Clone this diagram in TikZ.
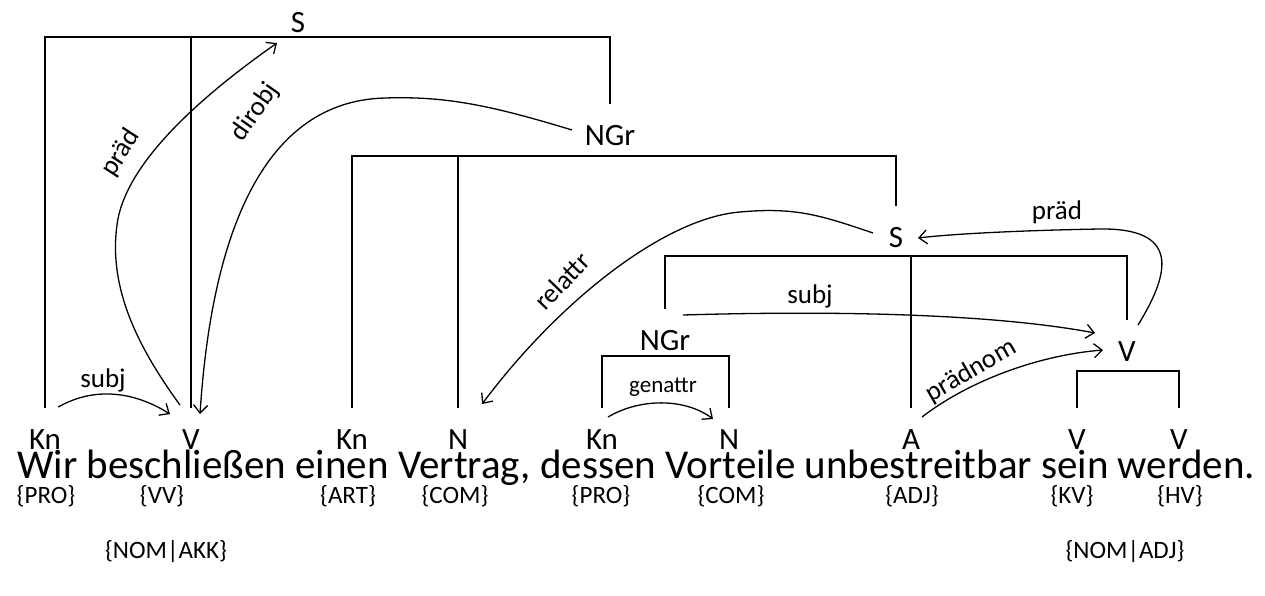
\documentclass[tikz,border=0pt]{standalone}
\usepackage{fontspec}
\setmainfont{Carlito}
\usetikzlibrary{arrows.meta}
\begin{document}
\begin{tikzpicture}[x=1pt,y=-1pt,
  cat/.style={font=\fontsize{31}{37}\selectfont, inner sep=0pt, outer ysep=22pt},
  tag/.style={font=\fontsize{25}{30}\selectfont, inner sep=0pt, anchor=base},
  lab/.style={font=\fontsize{27}{32}\selectfont, inner sep=0pt},
  smalllab/.style={font=\fontsize{23}{28}\selectfont, inner sep=0pt},
  tree/.style={line width=1.4pt},
  dep/.style={line width=1.3pt, -{Straight Barb[length=8pt,width=14pt]}},
  ]
\useasboundingbox (0,0) rectangle (1265,595);
% phrase nodes
\node[cat] (S1) at (298,23) {S};
\node[cat] (NGr1) at (610,136) {NGr};
\node[cat] (S2) at (896,238) {S};
\node[cat] (NGr2) at (665,341) {NGr};
\node[cat] (V2) at (1127,352) {V};
% categories
\node[cat] (c1) at (45,440) {Kn};
\node[cat] (c2) at (191,440) {V};
\node[cat] (c3) at (352,440) {Kn};
\node[cat] (c4) at (458,440) {N};
\node[cat] (c5) at (602,440) {Kn};
\node[cat] (c6) at (729,440) {N};
\node[cat] (c7) at (911,440) {A};
\node[cat] (c8) at (1077,440) {V};
\node[cat] (c9) at (1179,440) {V};
% sentence
\node[anchor=base west, inner sep=0pt, font=\fontsize{41}{50}\selectfont] (sent) at (17,478)
  {Wir beschließen einen Vertrag, dessen Vorteile unbestreitbar sein werden.};
% tags
\node[tag] (t1) at (46,503) {\{PRO\}};
\node[tag] (t2) at (162,503) {\{VV\}};
\node[tag] (t3) at (348,503) {\{ART\}};
\node[tag] (t4) at (455,503) {\{COM\}};
\node[tag] (t5) at (601,503) {\{PRO\}};
\node[tag] (t6) at (731,503) {\{COM\}};
\node[tag] (t7) at (912,503) {\{ADJ\}};
\node[tag] (t8) at (1072,503) {\{KV\}};
\node[tag] (t9) at (1180,503) {\{HV\}};
\node[tag] (t10) at (166,558) {\{NOM|AKK\}};
\node[tag] (t11) at (1125,558) {\{NOM|ADJ\}};
% tree lines
\draw[tree] (c1.north) |- (NGr1.north |- 0,37) -- (NGr1.north);
\draw[tree] (c2.north) -- (c2.north |- 0,37);
\draw[tree] (c3.north) |- (S2.north |- 0,156) -- (S2.north);
\draw[tree] (c4.north) -- (c4.north |- 0,156);
\draw[tree] (NGr2.north) |- (V2.north |- 0,256) -- (V2.north);
\draw[tree] (c7.north) -- (c7.north |- 0,256);
\draw[tree] (c5.north) |- (c6.north |- 0,356) -- (c6.north);
\draw[tree] (c8.north) |- (c9.north |- 0,371) -- (c9.north);
% dependency arrows
\draw[dep] ([shift={(-3,-1)}]c1.north east) .. controls (95,386) and (135,392) .. ([shift={(-12,6)}]c2.north west);
\draw[dep] ([shift={(-2,-3)}]c2.north west) .. controls (140,350) and (108,290) .. (117,225) .. controls (125,160) and (210,90) .. ([shift={(-21,20)}]S1.center);
\draw[dep] ([shift={(-38,-6)}]NGr1.center) .. controls (490,105) and (445,96) .. (385,98) .. controls (265,101) and (212,230) .. ([shift={(0,6)}]c2.north east);
\draw[dep] ([shift={(-23,-5)}]S2.center) .. controls (820,215) and (795,207) .. (740,212) .. controls (665,218) and (560,300) .. ([shift={(24,-4)}]c4.north);
\draw[dep] ([shift={(11,-27)}]V2.center) .. controls (1172,270) and (1178,228) .. (1100,229) .. controls (1040,230) and (960,233) .. ([shift={(22,0)}]S2.center);
\draw[dep] ([shift={(18,-26)}]NGr2.center) .. controls (850,310) and (1000,315) .. ([shift={(-32,-19)}]V2.center);
\draw[dep] ([shift={(11,-23)}]c7.center) .. controls (970,380) and (1040,355) .. ([shift={(-24,-2)}]V2.center);
\draw[dep] ([shift={(6,-23)}]c5.center) .. controls (640,398) and (685,398) .. ([shift={(-16,-21)}]c6.center);
% arc labels
\node[lab] (l1) at (103,380) {subj};
\node[lab, rotate=57] (l2) at (121,153) {präd};
\node[lab, rotate=55] (l3) at (255,112) {dirobj};
\node[lab, rotate=46] (l4) at (562,281) {relattr};
\node[lab] (l5) at (1057,212) {präd};
\node[lab] (l6) at (810,296) {subj};
\node[lab, rotate=30] (l7) at (971,371) {prädnom};
\node[smalllab] (l8) at (663,387) {genattr};
\end{tikzpicture}
\end{document}
